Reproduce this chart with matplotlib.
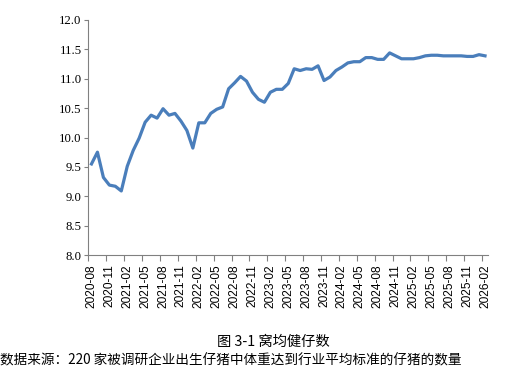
import numpy as np
import pandas as pd
import matplotlib
matplotlib.use("Agg")
import matplotlib.pyplot as plt

# =========================
# DATA
# =========================
months = pd.period_range("2020-08", "2026-02", freq="M").strftime("%Y-%m").tolist()

values = [
    9.55, 9.75, 9.32, 9.19, 9.17, 9.09, 9.51, 9.78, 9.99, 10.26,
    10.38, 10.33, 10.49, 10.38, 10.41, 10.28, 10.12, 9.82, 10.25, 10.25,
    10.41, 10.48, 10.52, 10.83, 10.93, 11.04, 10.96, 10.77, 10.65, 10.60,
    10.77, 10.82, 10.82, 10.92, 11.17, 11.14, 11.17, 11.16, 11.22, 10.97,
    11.03, 11.14, 11.20, 11.27, 11.29, 11.29, 11.36, 11.36, 11.33, 11.33,
    11.44, 11.39, 11.34, 11.34, 11.34, 11.36, 11.39, 11.40, 11.40, 11.39,
    11.39, 11.39, 11.39, 11.38, 11.38, 11.41, 11.39,
]

title = "图 3-1 窝均健仔数"
note = "数据来源：220 家被调研企业出生仔猪中体重达到行业平均标准的仔猪的数量"

# =========================
# PLOT
# =========================
plt.rcParams["font.family"] = ["Liberation Serif", "DejaVu Sans"]

fig = plt.figure(figsize=(5.06, 3.75), dpi=100)
ax = fig.add_axes([88.5 / 506, 1 - 255 / 375, (488 - 88.5) / 506, (255 - 20) / 375])

x = np.arange(len(months))
ax.plot(x, values, color="#4a7ebb", linewidth=2.3, solid_joinstyle="round")

ax.set_xlim(-0.5, len(months) - 0.5)
ax.set_ylim(8.0, 12.0)
ax.set_yticks(np.arange(8.0, 12.01, 0.5))
ax.set_yticklabels([f"{v:.1f}" for v in np.arange(8.0, 12.01, 0.5)], fontsize=9.2)

# labels centred on categories, tick marks between them
ax.set_xticks(x[::3])
ax.set_xticklabels(months[::3], rotation=90, fontsize=8.6,
                   family=["Liberation Sans", "DejaVu Sans"])
ax.set_xticks(np.arange(-0.5, len(months), 3), minor=True)
ax.tick_params(axis="x", which="major", length=0, pad=7)
ax.tick_params(axis="x", which="minor", length=4, color="#808080", width=0.8)
ax.tick_params(axis="y", length=3, color="#808080", width=0.8, pad=2)

for side in ["top", "right"]:
    ax.spines[side].set_visible(False)
for side in ["left", "bottom"]:
    ax.spines[side].set_color("#808080")
    ax.spines[side].set_linewidth(0.8)

fig.text(273 / 506, 1 - 342 / 375, title, ha="center", va="center", fontsize=10.3,
         family=["Noto Sans CJK SC", "DejaVu Sans"])
fig.text(0, 1 - 360 / 375, note, ha="left", va="center", fontsize=9.8,
         family=["Noto Sans CJK SC", "DejaVu Sans"])

fig.savefig("out.png", dpi=100)
